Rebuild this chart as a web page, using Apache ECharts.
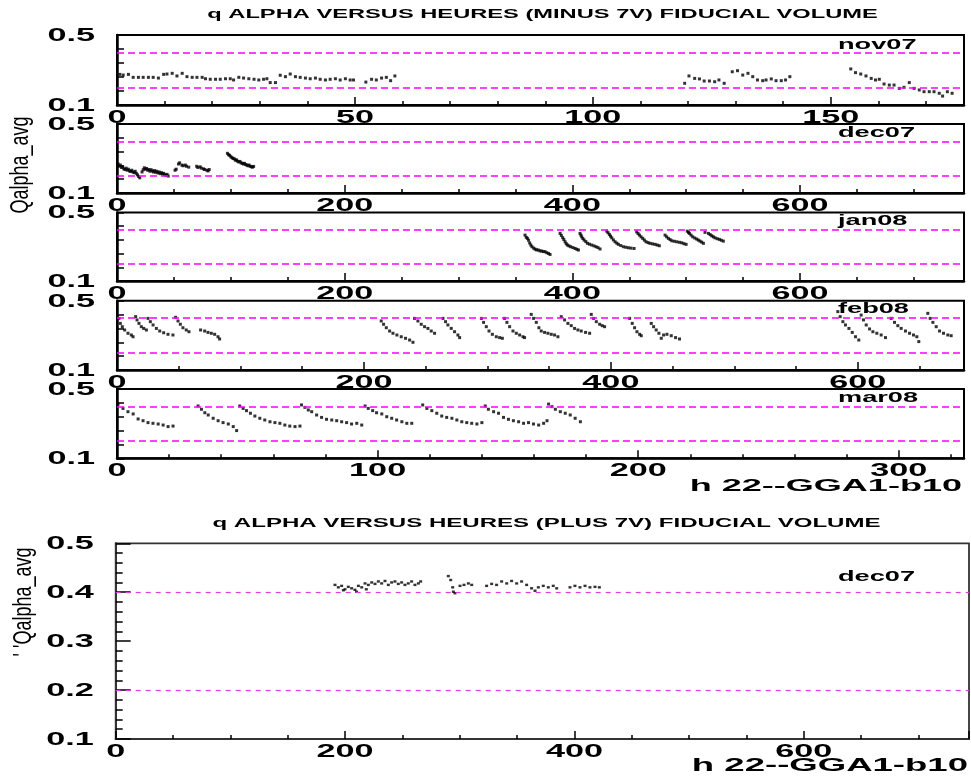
<!DOCTYPE html>
<html><head><meta charset="utf-8">
<script src="https://cdn.jsdelivr.net/npm/echarts@6/dist/echarts.min.js"></script>
<style>html,body{margin:0;padding:0;background:#fff}#c{width:971px;height:779px}</style>
</head><body><div id="c"></div>
<script>
// ---- data: [hour, Qalpha_avg] ----
const nov07 = [[0.6,0.275],[1.3,0.271],[2.4,0.275],[3.4,0.258],[4.5,0.258],[5.5,0.258],[6.6,0.258],[7.6,0.258],[8.7,0.254],[9.8,0.275],[10.5,0.277],[11.6,0.281],[12.6,0.266],[13.7,0.281],[14.7,0.262],[15.8,0.258],[16.8,0.258],[17.9,0.258],[18.6,0.250],[19.6,0.247],[20.7,0.247],[21.7,0.247],[22.8,0.250],[23.8,0.250],[24.5,0.243],[25.6,0.258],[26.6,0.254],[27.7,0.250],[28.8,0.247],[29.8,0.243],[30.8,0.247],[31.5,0.250],[32.2,0.228],[33.3,0.228],[34.3,0.270],[35.4,0.262],[36.4,0.277],[37.5,0.262],[38.5,0.258],[39.6,0.254],[40.6,0.250],[41.7,0.254],[42.7,0.247],[43.8,0.243],[44.8,0.247],[45.9,0.250],[46.9,0.243],[48.0,0.250],[49.0,0.243],[49.7,0.243],
[52.3,0.231],[53.5,0.247],[54.5,0.243],[55.6,0.254],[56.6,0.258],[57.5,0.239],[58.4,0.266],
[119.3,0.224],[120.2,0.266],[121.4,0.252],[122.4,0.249],[123.4,0.237],[124.5,0.237],[125.6,0.233],[126.5,0.243],[127.6,0.224],
[129.3,0.290],[130.4,0.296],[131.5,0.271],[132.6,0.281],[133.6,0.262],[134.6,0.243],[135.7,0.239],[136.4,0.243],[137.5,0.249],[138.5,0.239],[139.6,0.239],[140.5,0.243],[141.4,0.262],
[154.2,0.306],[155.2,0.285],[156.3,0.277],[157.4,0.266],[158.5,0.252],[159.4,0.243],[160.2,0.247],[161.2,0.220],[162.3,0.214],[163.3,0.214],[164.4,0.195],[165.4,0.201],[166.5,0.228],[167.5,0.195],[168.6,0.186],[169.6,0.176],[170.7,0.176],[171.7,0.176],[172.8,0.167],[173.5,0.151],[174.5,0.176],[175.5,0.167]];

const dec07 = [[1,0.268],[2,0.255],[3,0.262],[4,0.248],[5,0.252],[6,0.240],[7,0.236],[8,0.244],[9,0.232],[10,0.238],[11,0.228],[12,0.225],[13,0.232],[14,0.222],[15,0.218],[16,0.226],[17,0.214],[18,0.205],[19,0.196],[20,0.188],[22,0.222],[23,0.235],[24,0.246],[25,0.238],[26,0.242],[27,0.232],[28,0.236],[29,0.226],[30,0.235],[31,0.228],[32,0.222],[33,0.230],[34,0.220],[35,0.226],[36,0.216],[37,0.222],[38,0.212],[39,0.218],[40,0.210],[41,0.214],[42,0.206],[43,0.202],[44,0.208],[45,0.198],
[51,0.232],[52,0.238],[54,0.268],[55,0.275],[57,0.262],[58,0.258],[60,0.262],[61,0.255],[63,0.250],
[70,0.255],[71,0.248],[73,0.252],[74,0.244],[76,0.240],[77,0.236],[79,0.232],[80,0.228],[81,0.236],
[97,0.330],[98,0.322],[99,0.318],[100,0.310],[101,0.305],[102,0.300],[103,0.298],[104,0.290],[105,0.292],[106,0.284],[107,0.280],[108,0.283],[109,0.275],[110,0.272],[111,0.268],[112,0.272],[113,0.265],[114,0.262],[115,0.258],[116,0.262],[117,0.255],[118,0.252],[119,0.250],[120,0.254]];

const jan08 = [[358.4,0.368],[359.5,0.355],[360.5,0.349],[361.5,0.338],[362.5,0.322],[363.5,0.310],[364.5,0.300],[366,0.292],[367.2,0.286],[368.5,0.282],[370,0.281],[371.5,0.276],[373,0.275],[374.5,0.272],[376,0.271],[377.5,0.265],[379,0.261],[380.4,0.255],
[389.2,0.378],[390.3,0.366],[391.5,0.353],[392.5,0.342],[393.6,0.329],[394.6,0.318],[395.6,0.310],[397,0.305],[398.5,0.300],[400.5,0.295],[402.4,0.290],[404,0.285],[405.3,0.281],
[406.7,0.378],[407.5,0.368],[408.2,0.358],[409.2,0.348],[410.3,0.339],[411.8,0.330],[413.2,0.320],[415,0.315],[417,0.310],[419,0.305],[420.8,0.300],[422.5,0.295],[424.3,0.287],
[430.2,0.391],[431.3,0.382],[432.5,0.372],[433.5,0.362],[434.6,0.352],[436,0.340],[437.5,0.329],[439,0.321],[440.4,0.314],[442.5,0.307],[444.8,0.300],[447,0.297],[449.2,0.294],[451.5,0.292],[454.2,0.290],
[456.5,0.387],[457.7,0.377],[458.9,0.368],[460.3,0.358],[461.8,0.349],[463.2,0.339],[464.7,0.329],[466.5,0.324],[468.2,0.320],[470.4,0.317],[472.6,0.314],[474.5,0.310],[476.4,0.306],
[481.4,0.368],[482.8,0.358],[484.3,0.349],[485.8,0.342],[487.3,0.335],[489.5,0.332],[491.7,0.329],[494,0.326],[496.1,0.323],[498,0.318],[499.9,0.314],
[500.9,0.391],[502,0.384],[502.8,0.378],[504.2,0.368],[505.7,0.358],[507.5,0.351],[509.2,0.345],[510.6,0.339],[512.1,0.333],[513.6,0.327],[515.1,0.320],
[516.5,0.384],[519.5,0.378],[521,0.371],[522.4,0.364],[523.8,0.358],[525.3,0.352],[527.2,0.347],[529.1,0.343],[530.8,0.338],[532.6,0.333]];

const feb08 = [[1.6,0.398],[2.7,0.369],[4.3,0.350],[6.2,0.331],[8.9,0.312],[11.6,0.302],[13,0.292],
[15.1,0.408],[16.2,0.389],[17.8,0.369],[19.7,0.350],[21.6,0.340],[23.8,0.331],
[25.1,0.398],[27,0.379],[29.2,0.360],[31.9,0.340],[34.6,0.325],[37.8,0.315],[41.3,0.306],[45.3,0.302],
[47.5,0.404],[49.4,0.383],[51.3,0.364],[53.4,0.344],[56.1,0.331],[58.3,0.321],
[67.7,0.331],[71,0.325],[73.7,0.317],[76.4,0.312],[79.1,0.306],[81.8,0.292],[83.1,0.279],
[214,0.383],[215.9,0.364],[218.1,0.344],[220.8,0.325],[223.5,0.312],[226.7,0.302],[230.2,0.292],[233.7,0.283],[237,0.273],[239.7,0.260],
[241,0.398],[243.7,0.383],[246.4,0.364],[249.1,0.350],[251.8,0.340],[254.5,0.325],[257.2,0.312],
[264,0.398],[266.1,0.379],[268,0.360],[270.7,0.340],[273.4,0.321],[276.1,0.302],[277.5,0.287],
[295.1,0.398],[296.9,0.375],[299.1,0.350],[301.3,0.325],[304,0.306],[307.2,0.292],[309.9,0.287],[312.1,0.283],
[313.9,0.398],[315.8,0.375],[318,0.350],[320.7,0.325],[323.4,0.312],[326.1,0.302],[328.8,0.292],[330.1,0.287],
[335.5,0.421],[337.4,0.398],[339.6,0.375],[341.7,0.344],[343.6,0.325],[346.3,0.317],[349,0.312],[351.7,0.306],[354.4,0.302],[357.1,0.292],
[359.8,0.408],[362.5,0.389],[365.2,0.369],[367.9,0.356],[370.6,0.340],[373.3,0.331],[376,0.325],[379.5,0.317],[382.8,0.312],
[384.1,0.421],[386,0.398],[388.2,0.379],[390.9,0.364],[393,0.356],[394.9,0.350],
[415.2,0.398],[417.3,0.369],[419.2,0.344],[421.1,0.321],[423.3,0.306],[424.6,0.298],
[432.7,0.369],[434.6,0.350],[436.7,0.331],[438.9,0.312],[440.8,0.283],[442.7,0.302],[445.4,0.306],[448.9,0.298],[452.4,0.287],[455.6,0.279],
[583.8,0.437],[585.7,0.408],[587.9,0.379],[590,0.360],[592.8,0.340],[595.5,0.317],[598.1,0.292],[600.8,0.273],
[602.7,0.417],[604.6,0.389],[606.8,0.360],[609.5,0.337],[612.2,0.321],[615.4,0.312],[618.9,0.302],[622.4,0.287],
[627,0.398],[629.7,0.375],[632.4,0.356],[635.1,0.340],[638.6,0.325],[641.9,0.312],[645.1,0.302],[647.8,0.292],[649.4,0.264],
[656.7,0.427],[658.6,0.398],[660.8,0.375],[663.5,0.350],[666.2,0.325],[669.4,0.312],[672.9,0.302],[675.6,0.298]];

const mar08 = [[0.4,0.413],[2.3,0.388],[4.2,0.369],[6.2,0.356],[8.1,0.327],[10,0.317],[11.9,0.306],[13.8,0.302],[15.8,0.298],[17.7,0.292],[19.6,0.283],[21.5,0.286],
[31.1,0.402],[32.4,0.383],[33.7,0.363],[35,0.350],[36.9,0.331],[38.8,0.317],[40.7,0.306],[42.7,0.298],[44.6,0.283],[45.9,0.260],
[47.1,0.402],[48.4,0.388],[49.7,0.375],[51.2,0.360],[52.9,0.344],[54.8,0.331],[56.7,0.321],[58.7,0.311],[60.6,0.306],[62.5,0.302],[64.4,0.292],[66.3,0.286],[68.3,0.283],[70.2,0.286],
[70.8,0.408],[72.1,0.394],[73.4,0.379],[74.7,0.369],[76.6,0.350],[78.5,0.336],[80.4,0.325],[82.4,0.321],[84.3,0.317],[86.2,0.311],[88.1,0.306],[90,0.298],[92,0.302],[93.9,0.292],
[95.2,0.402],[96.4,0.388],[98.1,0.375],[99.6,0.363],[101.6,0.356],[103.5,0.340],[105.4,0.331],[107.3,0.321],[109.3,0.311],[111.2,0.302],[113.1,0.302],
[117.3,0.408],[118.9,0.388],[120.8,0.375],[122.7,0.360],[124.6,0.344],[126.5,0.336],[128.5,0.331],[130.4,0.321],[132.3,0.311],[134.2,0.306],[136.1,0.302],[138.1,0.298],[140,0.306],
[141.3,0.402],[142.5,0.383],[144.5,0.369],[146.4,0.360],[148.3,0.336],[150.2,0.325],[152.1,0.317],[154.1,0.311],[156,0.302],[157.9,0.306],[159.8,0.298],[161.8,0.292],[163.7,0.302],[165,0.317],
[165.6,0.413],[166.9,0.398],[168.2,0.383],[170.1,0.369],[172,0.360],[173.9,0.350],[175.8,0.331],[177.8,0.311]];

const plusDec07 = [[191.2,0.415],[194.1,0.410],[197.0,0.413],[198.5,0.404],[199.9,0.406],[202.8,0.411],[205.7,0.408],[208.6,0.405],[210,0.401],[211.6,0.413],[214.5,0.410],[217.4,0.418],[218.5,0.406],[220.3,0.415],[223.2,0.420],[226.1,0.417],[229.0,0.422],[231.9,0.418],[234.8,0.423],[237.7,0.415],[240.6,0.420],[243.5,0.422],[246.4,0.417],[249.3,0.420],[252.2,0.415],[255.1,0.418],[258.0,0.422],[260.9,0.415],[263.9,0.418],[265.9,0.422],
[290.0,0.433],[292.1,0.425],[293.8,0.410],[294.4,0.401],[295.8,0.398],[300.2,0.413],[303.7,0.415],[307.5,0.418],[310.4,0.415],
[323.4,0.413],[327.8,0.417],[332.1,0.415],[336.5,0.422],[340.9,0.418],[345.2,0.423],[349.6,0.418],[353.9,0.422],[358.3,0.415],[362.6,0.408],[365.6,0.403],[368.5,0.410],[372.8,0.413],[377.2,0.410],[381.5,0.413],[384.5,0.408],[396.1,0.410],[400.4,0.413],[404.8,0.410],[409.2,0.413],[413.5,0.410],[417.9,0.411],[421.7,0.410]];

const novTicks = [0, 50, 100, 150];
const decTicks = [0, 200, 400, 600];
const janTicks = [0, 200, 400, 600];
const febTicks = [0, 200, 400, 600];
const marTicks = [0, 100, 200, 300];
const plusTicks = [0, 200, 400, 600];
const topYTicks = [0.1, 0.5];
const plusYTicks = [0.1, 0.2, 0.3, 0.4, 0.5];
const refLines = [0.4, 0.2];
const panelNames = ['nov07', 'dec07', 'jan08', 'feb08', 'mar08', 'dec07'];

// ---- layout ----
const panels = [
  {data: nov07, xmax: 178, xint: 50, xminor: 5, xticks: novTicks, yticks: topYTicks, left: 117, top: 35, width: 847, height: 70, labelY: 45},
  {data: dec07, xmax: 744, xint: 200, xminor: 4, xticks: decTicks, yticks: topYTicks, left: 117, top: 124, width: 847, height: 69, labelY: 133},
  {data: jan08, xmax: 744, xint: 200, xminor: 4, xticks: janTicks, yticks: topYTicks, left: 117, top: 212.5, width: 847, height: 68.5, labelY: 221},
  {data: feb08, xmax: 686, xint: 200, xminor: 4, xticks: febTicks, yticks: topYTicks, left: 117, top: 300.7, width: 847, height: 69.3, labelY: 309},
  {data: mar08, xmax: 325, xint: 100, xminor: 5, xticks: marTicks, yticks: topYTicks, left: 117, top: 389, width: 847, height: 69.3, labelY: 398},
  {data: plusDec07, xmax: 744, xint: 200, xminor: 4, xticks: plusTicks, yticks: plusYTicks, left: 115.7, top: 543.3, width: 853.3, height: 195.7, labelY: 577.5, big: true}
];

const chart = echarts.init(document.getElementById('c'), null, {renderer: 'canvas'});
const BOLD = '"Liberation Sans", Arial, sans-serif';

const option = {
  animation: false,
  backgroundColor: '#fff',
  grid: panels.map(p => ({left: p.left, top: p.top, width: p.width, height: p.height, show: true,
    borderColor: p.big ? '#333' : '#000', borderWidth: p.big ? 1.8 : 2, backgroundColor: 'transparent', containLabel: false})),
  xAxis: panels.map((p, i) => ({
    gridIndex: i, type: 'value', min: 0, max: p.xmax, interval: p.xint,
    axisLine: {show: true, onZero: false, lineStyle: {color: p.big ? '#333' : '#000', width: p.big ? 2 : 2.5}},
    axisTick: {show: true, inside: true, length: 8, lineStyle: {color: '#000', width: 1.5}},
    minorTick: {show: true, splitNumber: p.xminor, length: 4, lineStyle: {color: '#000', width: 1.5}},
    axisLabel: {show: false}, splitLine: {show: false}, minorSplitLine: {show: false}
  })),
  yAxis: panels.map((p, i) => p.big ? ({
    gridIndex: i, type: 'value', min: 0.1, max: 0.5, interval: 0.1,
    axisLine: {show: true, onZero: false, lineStyle: {color: '#333', width: 2}},
    axisTick: {show: true, inside: true, length: 15, lineStyle: {color: '#000', width: 1.5}},
    minorTick: {show: true, splitNumber: 5, length: 7, lineStyle: {color: '#000', width: 1.5}},
    axisLabel: {show: false}, splitLine: {show: false}, minorSplitLine: {show: false}
  }) : ({
    gridIndex: i, type: 'value', min: 0.1, max: 0.5, interval: 0.08,
    axisLine: {show: true, onZero: false, lineStyle: {color: '#000', width: 2.5}},
    axisTick: {show: true, inside: true, length: 7, lineStyle: {color: '#000', width: 1.5}},
    minorTick: {show: false},
    axisLabel: {show: false}, splitLine: {show: false}, minorSplitLine: {show: false}
  })),
  series: panels.map((p, i) => ({
    type: 'scatter', xAxisIndex: i, yAxisIndex: i, data: p.data,
    symbol: 'rect', symbolSize: p.big ? [3, 2.4] : 3,
    itemStyle: {color: '#000'}, silent: true,
    markLine: {silent: true, symbol: ['none', 'none'], label: {show: false},
      lineStyle: {color: p.big ? '#e040e0' : '#ff00ff', type: p.big ? [5, 5] : [7, 4], width: p.big ? 1.2 : 1.5},
      data: refLines.map(v => ({yAxis: v}))}
  }))
};
chart.setOption(option);

// ---- texts ----
const g = [];
function txt(text, x, y, font, sx, align, extra) {
  return Object.assign({type: 'text', x: x, y: y, scaleX: sx, z: 100, silent: true,
    style: {text: text, font: font, fill: '#000', align: align, verticalAlign: 'middle'}}, extra || {});
}
g.push(txt('q ALPHA VERSUS HEURES (MINUS 7V) FIDUCIAL VOLUME', 542.5, 14, 'bold 13px ' + BOLD, 1.82, 'center'));
g.push(txt('q ALPHA VERSUS HEURES (PLUS 7V) FIDUCIAL VOLUME', 546.5, 523, 'bold 13px ' + BOLD, 1.85, 'center'));
g.push(txt('h 22--GGA1-b10', 962, 486, 'bold 17px ' + BOLD, 2.12, 'right'));
g.push(txt('h 22--GGA1-b10', 968, 766.5, 'bold 18px ' + BOLD, 2.03, 'right'));
g.push(txt('Qalpha_avg', 21, 165, '18px ' + BOLD, 1, 'center', {rotation: Math.PI / 2, scaleY: 1.4}));
g.push(txt("' 'Qalpha_avg", 24, 602, '18px ' + BOLD, 1, 'center', {rotation: Math.PI / 2, scaleY: 1.4}));

panels.forEach((p, i) => {
  g.push(txt(panelNames[i], 838, p.labelY, 'bold 14px ' + BOLD, 1.94, 'left'));
  const yb = chart.convertToPixel({yAxisIndex: i}, 0.1);
  const xl = chart.convertToPixel({xAxisIndex: i}, 0);
  p.xticks.forEach(t => {
    const x = chart.convertToPixel({xAxisIndex: i}, t);
    g.push(txt(String(t), x, yb + 13, 'bold 18px ' + BOLD, 1.9, 'center'));
  });
  p.yticks.forEach(v => {
    const y = chart.convertToPixel({yAxisIndex: i}, v);
    g.push(txt(v.toFixed(1), xl - 22, y + 1, 'bold 18px ' + BOLD, 1.9, 'right'));
  });
});
chart.setOption({graphic: g});
</script></body></html>
